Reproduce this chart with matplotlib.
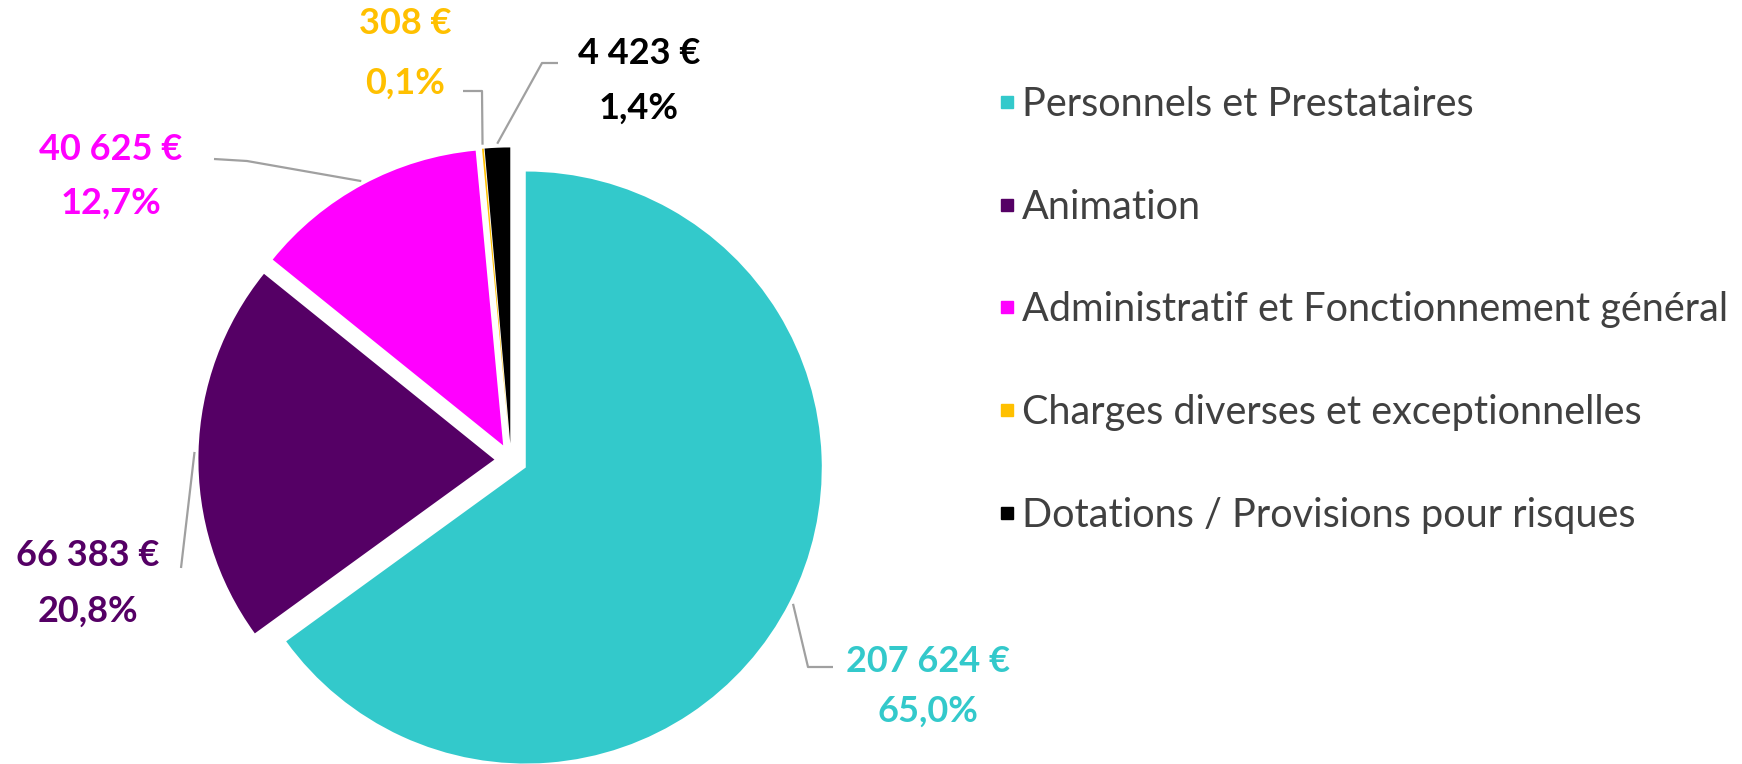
import matplotlib
matplotlib.use("Agg")
import matplotlib.pyplot as plt
from matplotlib.lines import Line2D
import numpy as np

categories = ["Personnels et Prestataires", "Animation",
              "Administratif et Fonctionnement général",
              "Charges diverses et exceptionnelles",
              "Dotations / Provisions pour risques"]
amounts = [207624, 66383, 40625, 308, 4423]
amount_labels = ["207 624 €", "66 383 €", "40 625 €", "308 €", "4 423 €"]
pct_labels = ["65,0%", "20,8%", "12,7%", "0,1%", "1,4%"]
colors = ["#33C9CB", "#550065", "#FF00FF", "#FFC000", "#000000"]

W, H = 1742, 764
fig = plt.figure(figsize=(W / 100, H / 100), dpi=100)
ax = fig.add_axes([0, 0, 1, 1])

center = (511, H - 460)
radius = 296
explode_frac = 0.056
wedges, _ = ax.pie(amounts, colors=colors, startangle=90, counterclock=False,
                   explode=[explode_frac * radius] * len(amounts), center=center,
                   radius=radius, wedgeprops=dict(linewidth=0))
ax.set_xlim(0, W)
ax.set_ylim(0, H)
ax.set_aspect("equal")
ax.axis("off")

# label layout (pixel coords, y from top)
label_pos = [(928, 661, 711), (88, 556, 611), (111, 150, 203), (405, 24, 83), (639, 53, 108)]
# leader bend points (pixel coords, y from top), line ends just short of wedge arc
leader_pts = [
    [(833, 667), (808, 667)],
    [(181, 568)],
    [(214, 159), (247, 161)],
    [(463, 91), (482, 91)],
    [(558, 63), (542, 63)],
]
arc_frac = [0.5, 0.5, 0.5, 0.5, 0.5]
gap = 4

for i, w in enumerate(wedges):
    x, yt1, yt2 = label_pos[i]
    ax.text(x, H - yt1, amount_labels[i], color=colors[i], fontsize=26, fontweight="bold",
            family="Lato", ha="center", va="center")
    ax.text(x, H - yt2, pct_labels[i], color=colors[i], fontsize=26, fontweight="bold",
            family="Lato", ha="center", va="center")
    cx, cy = w.center
    t1, t2 = w.theta1, w.theta2
    ang = np.deg2rad(t1 + (t2 - t1) * arc_frac[i])
    ex, ey = cx + (w.r + gap) * np.cos(ang), cy + (w.r + gap) * np.sin(ang)
    xs = [p[0] for p in leader_pts[i]] + [ex]
    ys = [H - p[1] for p in leader_pts[i]] + [ey]
    ax.plot(xs, ys, color="#A0A0A0", lw=1.6, solid_capstyle="butt")

handles = [Line2D([], [], marker="s", linestyle="none", markersize=8,
                  markerfacecolor=c, markeredgecolor=c) for c in colors]
leg = ax.legend(handles, categories, loc="upper left", bbox_to_anchor=(983 / W, 1 - 70 / H),
                frameon=False, prop=dict(family="Lato", size=28.5), labelcolor="#404040",
                handlelength=0.4, handletextpad=0.18, labelspacing=1.66, borderaxespad=0)

fig.savefig("out.png", dpi=100)
